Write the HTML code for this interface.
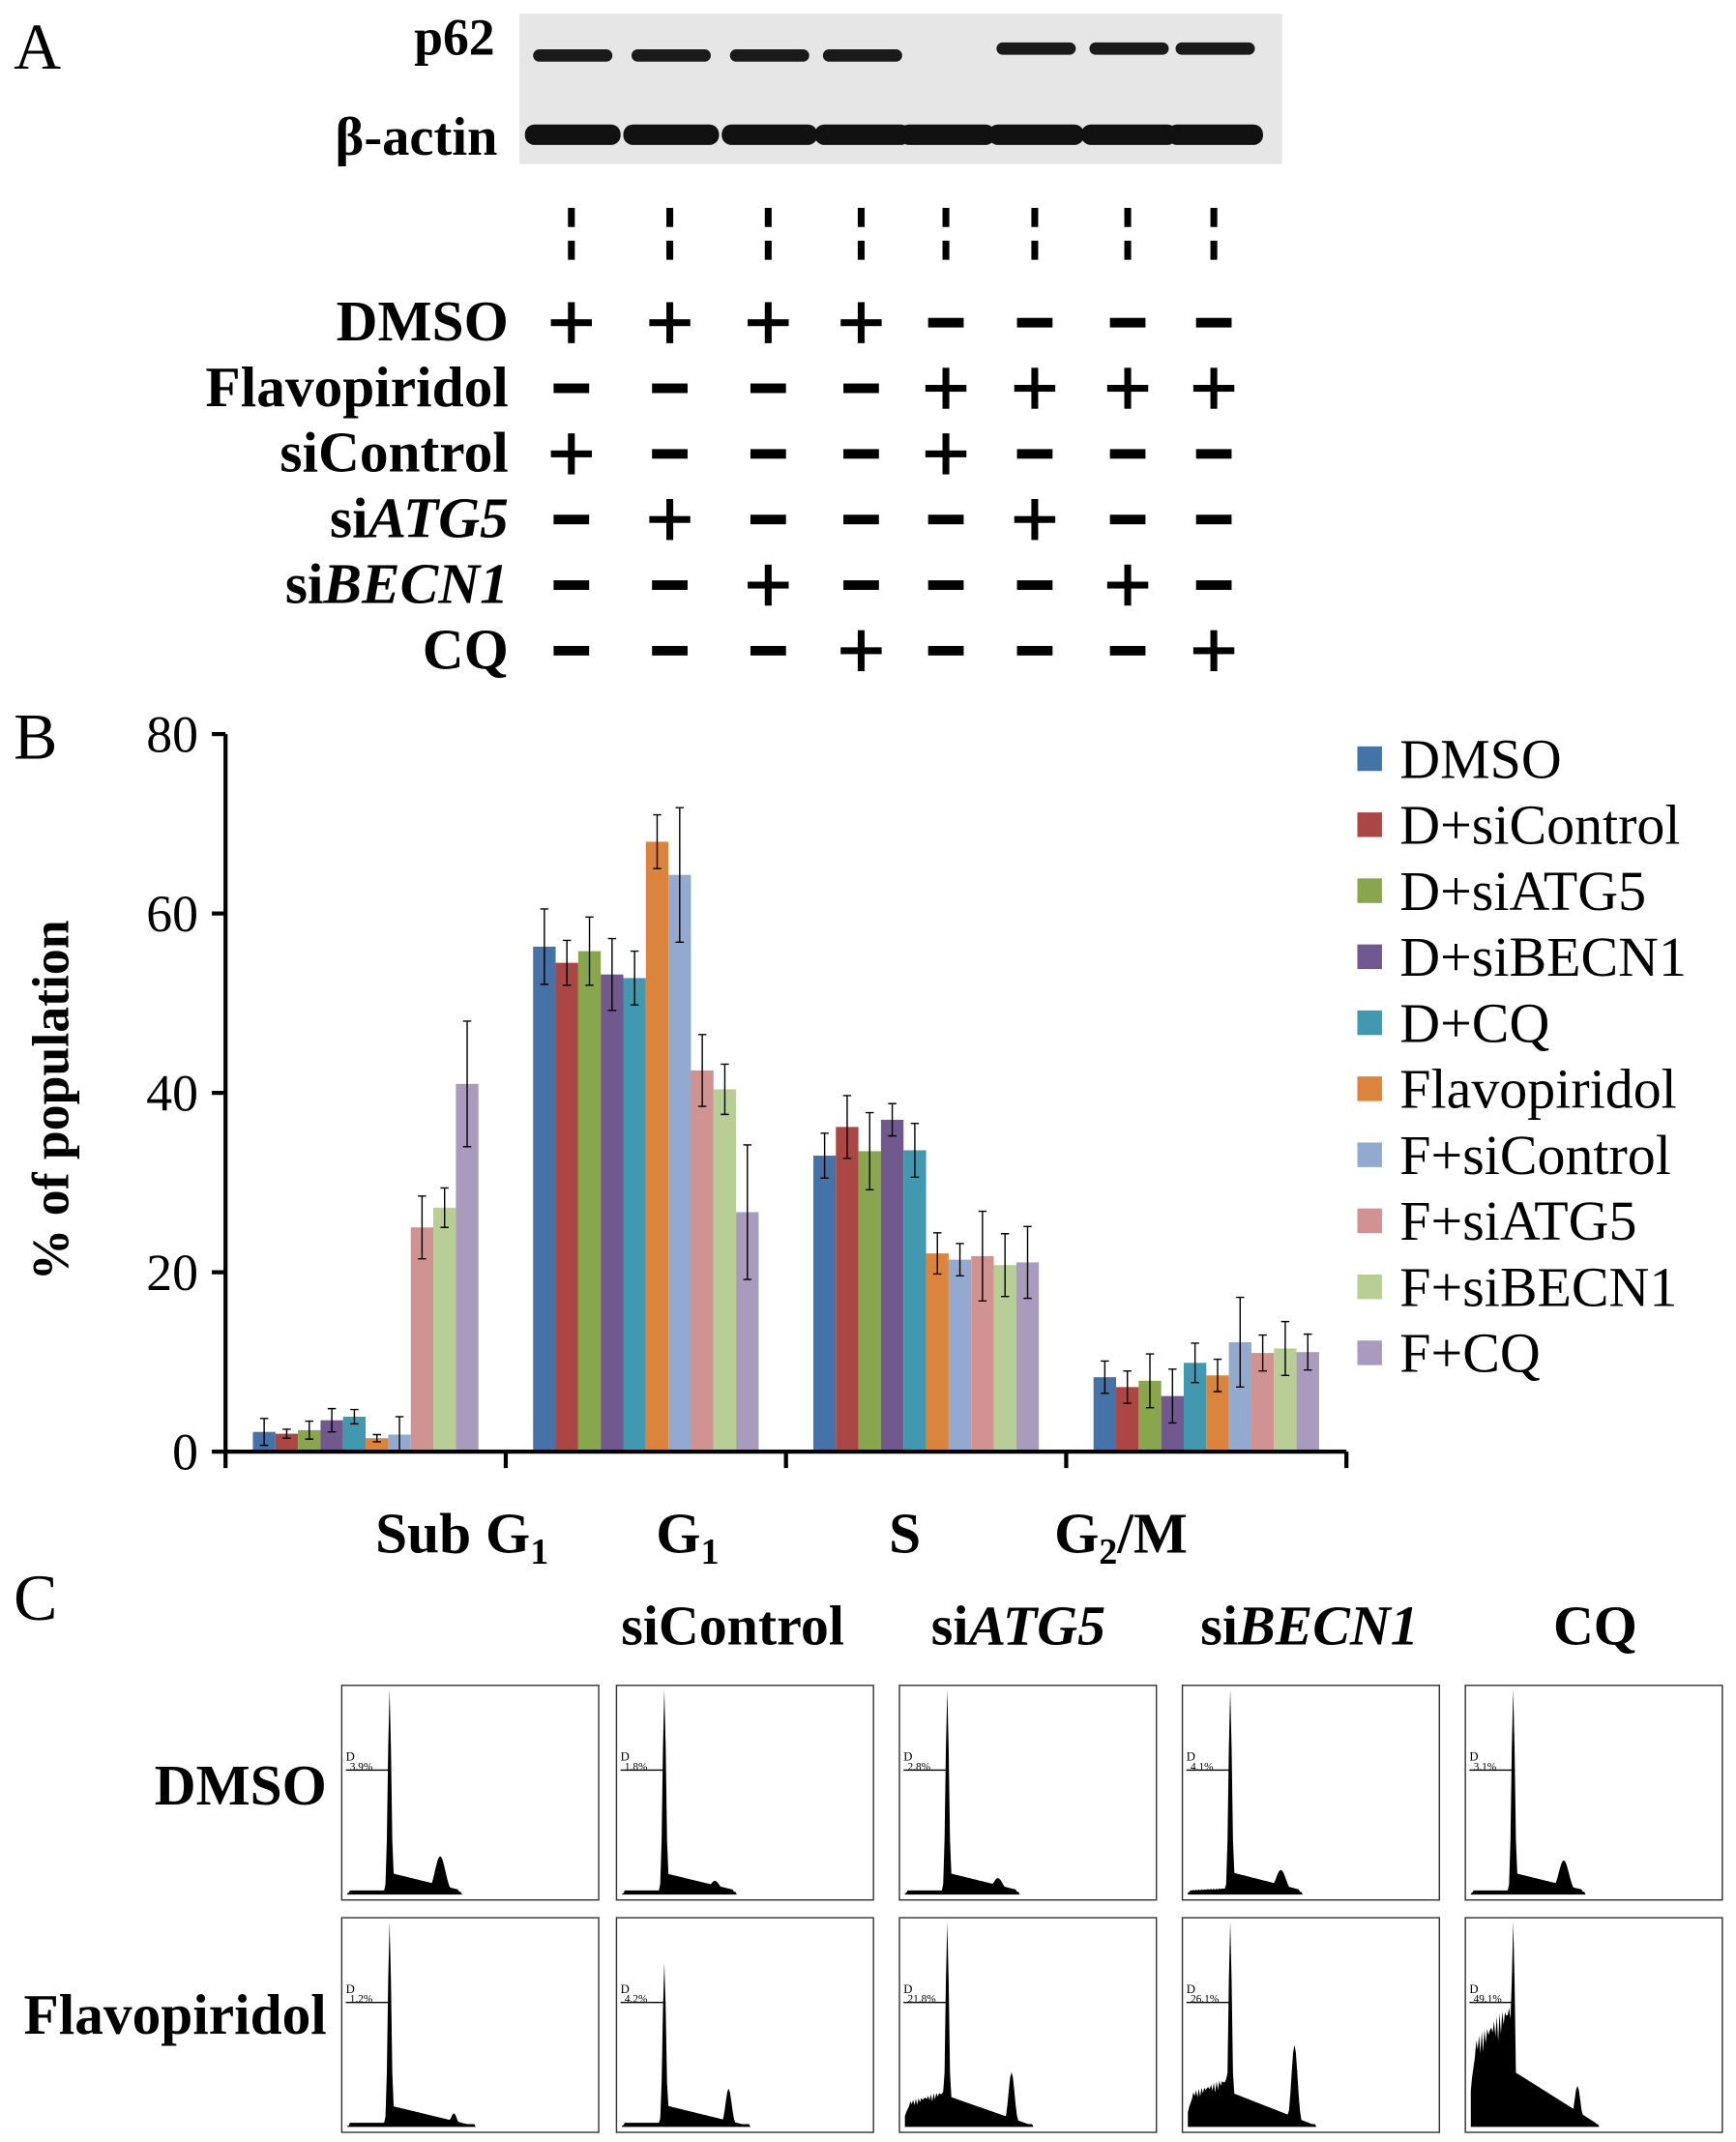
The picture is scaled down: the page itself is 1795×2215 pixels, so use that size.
<!DOCTYPE html>
<html><head><meta charset="utf-8"><style>
html,body{margin:0;padding:0;background:#fff}
svg{display:block}
text{font-family:"Liberation Serif",serif}
</style></head><body>
<svg id="fig" width="1795" height="2215" viewBox="0 0 1270 1567" xmlns="http://www.w3.org/2000/svg">
<g id="panelA">
<text x="10" y="50" font-size="48">A</text>
<rect x="380" y="10" width="558" height="110" fill="#e6e6e6"/>
<text x="362" y="40" font-size="38" font-weight="bold" text-anchor="end">p62</text>
<text x="364" y="113" font-size="40" font-weight="bold" text-anchor="end">β-actin</text>
</g>
<g id="panelB">
<text x="10" y="555" font-size="48">B</text>
<text transform="translate(50,805) rotate(-90)" font-size="38" font-weight="bold" text-anchor="middle">% of population</text>
</g>
<g id="panelC">
<text x="10" y="1185" font-size="48">C</text>
</g>
</svg>
<script>
const NS="http://www.w3.org/2000/svg";
const svg=document.getElementById('fig');
function mk(tag,attrs,parent,txt){const e=document.createElementNS(NS,tag);for(const k in attrs)e.setAttribute(k,attrs[k]);if(txt!==undefined)e.textContent=txt;(parent||svg).appendChild(e);return e;}

/* ---------- Panel A ---------- */
const laneX=[418,490,562,630,692,757,825,888];
const p62Present=[1,1,1,1,0,1,1,1];
const treatments=["DMSO","Flavopiridol","siControl","siATG5","siBECN1","CQ"];
const treatMatrix=[[1,1,1,1,0,0,0,0],[0,0,0,0,1,1,1,1],[1,0,0,0,1,0,0,0],[0,1,0,0,0,1,0,0],[0,0,1,0,0,0,1,0],[0,0,0,1,0,0,0,1]];
const rowY=[236,284,332,380,428,476];
const pA=document.getElementById('panelA');
laneX.forEach((x,i)=>{
  if(p62Present[i]){const b=mk('rect',{x:x-28,y:36-(i>4?5:0),width:58,height:9,rx:4.5,fill:'#1a1a1a'},pA);
  
  }
  const a=mk('rect',{x:x-34,y:91,width:70,height:15,rx:7,fill:'#111'},pA);
  
  
  const d1=mk('rect',{x:x-2.5,y:152,width:5,height:14,fill:'#000'},pA);
  
  
  const d2=mk('rect',{x:x-2.5,y:176,width:5,height:14,fill:'#000'},pA);
  
  
});
treatments.forEach((t,r)=>{
  const y=rowY[r];
  const lab=mk('text',{x:372,y:y+13,'font-size':42,'font-weight':'bold','text-anchor':'end'},pA);
  
  
  if(t==='siATG5'||t==='siBECN1'){lab.appendChild(document.createTextNode('si'));mk('tspan',{'font-style':'italic'},lab,t.slice(2));}
  else lab.textContent=t;
  laneX.forEach((x,i)=>{
    const g=mk('g',{},pA);
    
    
    if(treatMatrix[r][i]){mk('rect',{x:x-15,y:y-2.5,width:30,height:5,fill:'#000'},g);mk('rect',{x:x-2.5,y:y-15,width:5,height:30,fill:'#000'},g);}
    else mk('rect',{x:x-13,y:y-3.5,width:26,height:7,fill:'#000'},g);
  });
});

/* ---------- Panel B chart ---------- */
const series=["DMSO","D+siControl","D+siATG5","D+siBECN1","D+CQ","Flavopiridol","F+siControl","F+siATG5","F+siBECN1","F+CQ"];
const colors=["#4572A7","#AA4643","#89A54E","#71588F","#4198AF","#DB843D","#93A9CF","#D19392","#B9CD96","#A99BBD"];
const phases=["SubG1","G1","S","G2M"];
const valSubG1=[2.2,2.0,2.4,3.5,3.9,1.5,1.9,25,27.2,41];
const valG1=[56.3,54.5,55.8,53.2,52.8,68,64.3,42.5,40.4,26.7];
const valS=[33,36.2,33.5,37,33.6,22.1,21.4,21.8,20.8,21.1];
const valG2M=[8.3,7.2,7.9,6.2,9.9,8.5,12.2,11,11.5,11.1];
const errSubG1=[1.5,0.5,1,1.3,0.8,0.4,2,3.5,2.2,7];
const errG1=[4.2,2.5,3.8,4,3,3,7.5,4,2.8,7.5];
const errS=[2.5,3.5,4.3,1.8,3,2.3,1.8,5,3.5,4];
const errG2M=[1.8,1.8,3,3,2.2,1.8,5,2,3,2];
const yTicks=[0,20,40,60,80];
const values=[valSubG1,valG1,valS,valG2M];
const errors=[errSubG1,errG1,errS,errG2M];
const pB=document.getElementById('panelB');
const X0=165,X1=985,Y0=1062,Y80=537;
const yS=v=>Y0-(Y0-Y80)*v/80;
const groupW=(X1-X0)/4, barW=16.5, padL=20;
const xS=(g,s)=>X0+g*groupW+padL+s*barW;
values.forEach((vals,g)=>vals.forEach((v,s)=>{
  const r=mk('rect',{x:xS(g,s),y:yS(v),width:barW,height:Y0-yS(v),fill:colors[s]},pB);
  
  
  const cx=xS(g,s)+barW/2,e=errors[g][s];
  const eb=mk('path',{d:`M${cx},${yS(v+e)}V${yS(v-e)}M${cx-3},${yS(v+e)}h6M${cx-3},${yS(v-e)}h6`,stroke:'#000','stroke-width':1,fill:'none'},pB);
  
  
}));
const ax=mk('path',{d:`M${X0},${Y80}V${Y0}H${X1}`,stroke:'#000','stroke-width':3,fill:'none'},pB);


yTicks.forEach(t=>{
  const tk=mk('path',{d:`M${X0-10},${yS(t)}H${X0}`,stroke:'#000','stroke-width':3},pB);
  
  
  const tl=mk('text',{x:X0-20,y:yS(t)+13,'font-size':38,'text-anchor':'end'},pB,String(t));
  
  
});
for(let g=0;g<=4;g++){const tk=mk('path',{d:`M${X0+g*groupW},${Y0}v12`,stroke:'#000','stroke-width':3},pB);
  
  }
const xl=[["Sub G",1,"",338],["G",1,"",503],["S","","",662],["G",2,"/M",820]];
xl.forEach(l=>{const t=mk('text',{x:l[3],y:1136,'font-size':42,'font-weight':'bold','text-anchor':'middle'},pB);
  
  
  t.appendChild(document.createTextNode(l[0]));
  if(l[1]!==''){mk('tspan',{'font-size':27,dy:8},t,String(l[1]));mk('tspan',{dy:-8},t,l[2]);}
});
series.forEach((s,i)=>{
  const y=555+i*48.3;
  const g=mk('g',{},pB);
  
  
  mk('rect',{x:993,y:y-9,width:18,height:18,fill:colors[i]},g);
  mk('text',{x:1024,y:y+14,'font-size':41,textLength:0},g,s).removeAttribute('textLength');
});

/* ---------- Panel C ---------- */
const pC=document.getElementById('panelC');
const colX=[250,451,658,865,1072];
const rowsC=[1233,1403];
const boxW=188,boxH=157;
const heads=[["si","Control",false,536],["si","ATG5",true,745],["si","BECN1",true,958],["","CQ",false,1167]];
heads.forEach(h=>{const t=mk('text',{x:h[3],y:1203,'font-size':41,'font-weight':'bold','text-anchor':'middle'},pC);
  
  
  t.appendChild(document.createTextNode(h[0]));mk('tspan',h[2]?{'font-style':'italic'}:{},t,h[1]);});
[["DMSO",1320],["Flavopiridol",1488]].forEach(r=>{const t=mk('text',{x:239,y:r[1],'font-size':42,'font-weight':'bold','text-anchor':'end'},pC,r[0]);
  
  });
const pcts=[["3.9%","1.8%","2.8%","4.1%","3.1%"],["1.2%","4.2%","21.8%","26.1%","49.1%"]];
const subLevel=[[3,2,3,5,3],[2,3,28,38,95]];
const g2Level=[[28,10,12,18,25],[10,28,40,60,30]];
const g1Level=[[150,150,150,150,150],[150,120,150,150,150]];
function histPath(x0,y0,sub,g1,g2,flav){
  const B=y0+boxH-4;let d=`M${x0+4},${B}`;
  const g2c=flav?82:72;
  for(let i=4;i<=boxW-4;i++){
    let h=0;const t=i;
    if(t<36){h=sub*(0.75+0.25*Math.abs(Math.sin(t*1.7)))*(t>8?1:t/8)*(0.6+0.4*t/36);}
    if(sub<10&&t>=6&&t<34) h=Math.max(h,3);
    const plateau=(14+sub*0.25)*Math.max(0,1-(t-40)/60);
    if(t>=28&&t<g2c+14) h=Math.max(h,g1*Math.exp(-Math.pow(t-35,2)/3),t>36?plateau:0);
    if(t>=55&&t<95) h=Math.max(h,g2*Math.exp(-Math.pow(t-g2c,2)/(flav?10:30)),t<g2c+12?plateau*0.5:0);
    if(t>=g2c+6&&t<g2c+16) h=Math.max(h,2);
    d+=`L${x0+i},${B-h}`;
  }
  return d+`L${x0+boxW-4},${B}Z`;
}
rowsC.forEach((y,r)=>colX.forEach((x,c)=>{
  const g=mk('g',{},pC);
  
  
  mk('rect',{x:x,y:y,width:boxW,height:boxH,fill:'#fff',stroke:'#333','stroke-width':1},g);
  mk('path',{d:histPath(x,y,subLevel[r][c],g1Level[r][c],g2Level[r][c],r===1),fill:'#000'},g);
  mk('text',{x:x+3,y:y+55,'font-size':9,'font-family':'Liberation Sans'},g,'D');
  mk('path',{d:`M${x+3},${y+62}H${x+36}`,stroke:'#000','stroke-width':1},g);
  mk('text',{x:x+6,y:y+62,'font-size':8,'font-family':'Liberation Sans'},g,pcts[r][c]);
}));
</script>
</body></html>
